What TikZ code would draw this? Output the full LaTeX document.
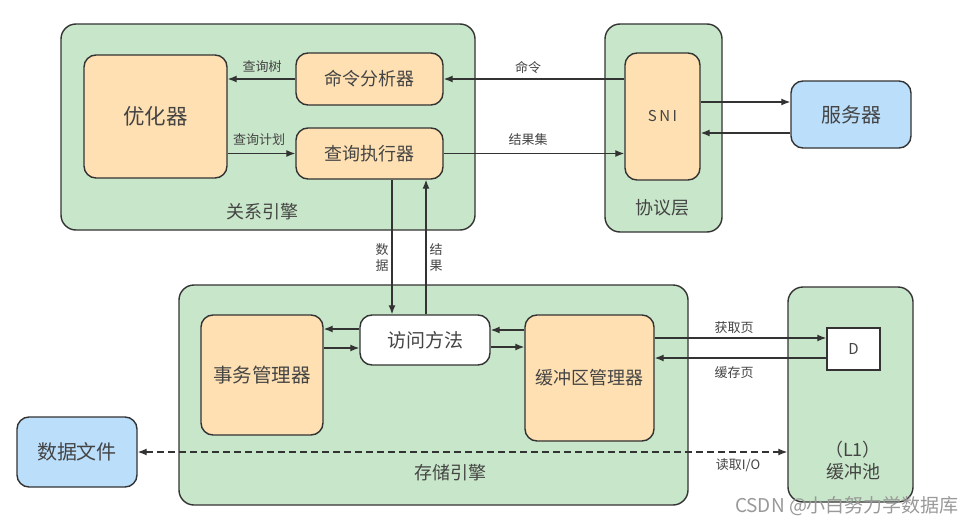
\documentclass[tikz,border=0pt]{standalone}
\usepackage{fontspec}
\setmainfont{Noto Sans CJK SC}
\usetikzlibrary{arrows.meta}
\definecolor{gfill}{HTML}{C8E6C9}
\definecolor{ofill}{HTML}{FFE0B2}
\definecolor{bfill}{HTML}{BBDEFB}
\definecolor{edge}{HTML}{333333}
\definecolor{txt}{HTML}{444444}
\newcommand{\fsz}[1]{\fontsize{#1}{#1}\selectfont}
\tikzset{
  box/.style={draw=edge, line width=1.4pt, rounded corners=12pt, inner sep=0pt, text=txt, align=center},
  grp/.style={box, fill=gfill, rounded corners=15pt},
  obox/.style={box, fill=ofill},
  bbox/.style={box, fill=bfill},
  wbox/.style={box, fill=white},
  lbl/.style={text=txt, font=\fsz{13}, inner sep=0pt},
  glbl/.style={text=txt, font=\fsz{18}, inner sep=0pt},
  arr/.style={draw=edge, line width=1.3pt, -{Latex[length=9pt,width=7pt]}},
}
\begin{document}
\begin{tikzpicture}[x=1pt,y=-1pt]
\useasboundingbox[fill=white] (0,0) rectangle (978,525);
% groups
\node[grp, minimum width=414pt, minimum height=206pt] (rel) at (268,127) {};
\node[grp, minimum width=117pt, minimum height=208pt] (proto) at (663.5,128) {};
\node[grp, minimum width=509pt, minimum height=220pt] (store) at (433.5,395) {};
\node[grp, minimum width=125pt, minimum height=215pt] (pool) at (850.5,394.5) {};
\node[glbl] (rellbl) at (262,212) {关系引擎};
\node[glbl] (protolbl) at (662,208) {协议层};
\node[glbl] (storelbl) at (450,473) {存储引擎};
\node[glbl, align=center, font=\fontsize{18}{22}\selectfont] (poollbl) at (853,461) {（L1）\\缓冲池};
% inner boxes
\node[obox, minimum width=143pt, minimum height=123pt, font=\fsz{21.5}] (opt) at (155.5,116.5) {优化器};
\node[obox, minimum width=147pt, minimum height=52pt, font=\fsz{18}] (cmd) at (369.5,79) {命令分析器};
\node[obox, minimum width=147pt, minimum height=51pt, font=\fsz{18}] (exe) at (369.5,153.5) {查询执行器};
\node[obox, minimum width=75pt, minimum height=127pt, font=\fsz{15}] (sni) at (662.5,116.5) {S\,N\,I};
\node[bbox, minimum width=120pt, minimum height=67pt, font=\fsz{20}] (srv) at (851,114.5) {服务器};
\node[obox, minimum width=122pt, minimum height=120pt, font=\fsz{19.5}] (txn) at (262,375) {事务管理器};
\node[wbox, minimum width=130pt, minimum height=50pt, font=\fsz{19}] (acc) at (425,340) {访问方法};
\node[obox, minimum width=129pt, minimum height=126pt, font=\fsz{18}] (buf) at (589.5,378) {缓冲区管理器};
\node[wbox, rounded corners=0pt, minimum width=53pt, minimum height=42pt, font=\fsz{15}] (D) at (853.5,349) {D};
\node[bbox, minimum width=120pt, minimum height=70pt, font=\fsz{20}] (file) at (77,452) {数据文件};
% connectors
\draw[arr] (cmd.west) -- (cmd.west -| opt.east);
\draw[arr] (exe.west -| opt.east) -- (exe.west);
\draw[arr] (cmd.east -| sni.west) -- (cmd.east);
\draw[arr] (exe.east) -- (exe.east -| sni.west);
\draw[arr] ([yshift=14.5pt]sni.east) -- ([yshift=14.5pt]sni.east -| srv.west);
\draw[arr] ([yshift=-16.5pt]sni.east -| srv.west) -- ([yshift=-16.5pt]sni.east);
\draw[arr] ([xshift=22.5pt]exe.south) -- ([xshift=22.5pt]exe.south |- acc.north);
\draw[arr] ([xshift=1pt]acc.north) -- ([xshift=1pt]acc.north |- exe.south);
\draw[arr] ([yshift=11pt]acc.west) -- ([yshift=11pt]acc.west -| txn.east);
\draw[arr] ([yshift=-8pt]acc.west -| txn.east) -- ([yshift=-8pt]acc.west);
\draw[arr] ([yshift=10pt]acc.east -| buf.west) -- ([yshift=10pt]acc.east);
\draw[arr] ([yshift=-7pt]acc.east) -- ([yshift=-7pt]acc.east -| buf.west);
\draw[arr] ([yshift=11pt]D.west -| buf.east) -- ([yshift=11pt]D.west);
\draw[arr] ([yshift=-9pt]D.west) -- ([yshift=-9pt]D.west -| buf.east);
\draw[arr, {Latex[length=9pt,width=7pt]}-{Latex[length=9pt,width=7pt]}, dash pattern=on 7pt off 4pt] (file.east) -- (file.east -| pool.west);
% labels
\node[lbl] (l1) at (262,67) {查询树};
\node[lbl] (l2) at (259,140) {查询计划};
\node[lbl] (l3) at (528,68) {命令};
\node[lbl] (l4) at (528,140) {结果集};
\node[lbl, align=center, font=\fontsize{13}{16}\selectfont] (l5) at (382,258) {数\\据};
\node[lbl, align=center, font=\fontsize{13}{16}\selectfont] (l6) at (436,258) {结\\果};
\node[lbl] (l7) at (734,328) {获取页};
\node[lbl] (l8) at (734,373) {缓存页};
\node[lbl] (l9) at (738,465) {读取I/O};
\node[text=black!40, font=\fsz{19}, inner sep=0pt] (wm) at (847,506) {CSDN @小白努力学数据库};
\end{tikzpicture}
\end{document}
